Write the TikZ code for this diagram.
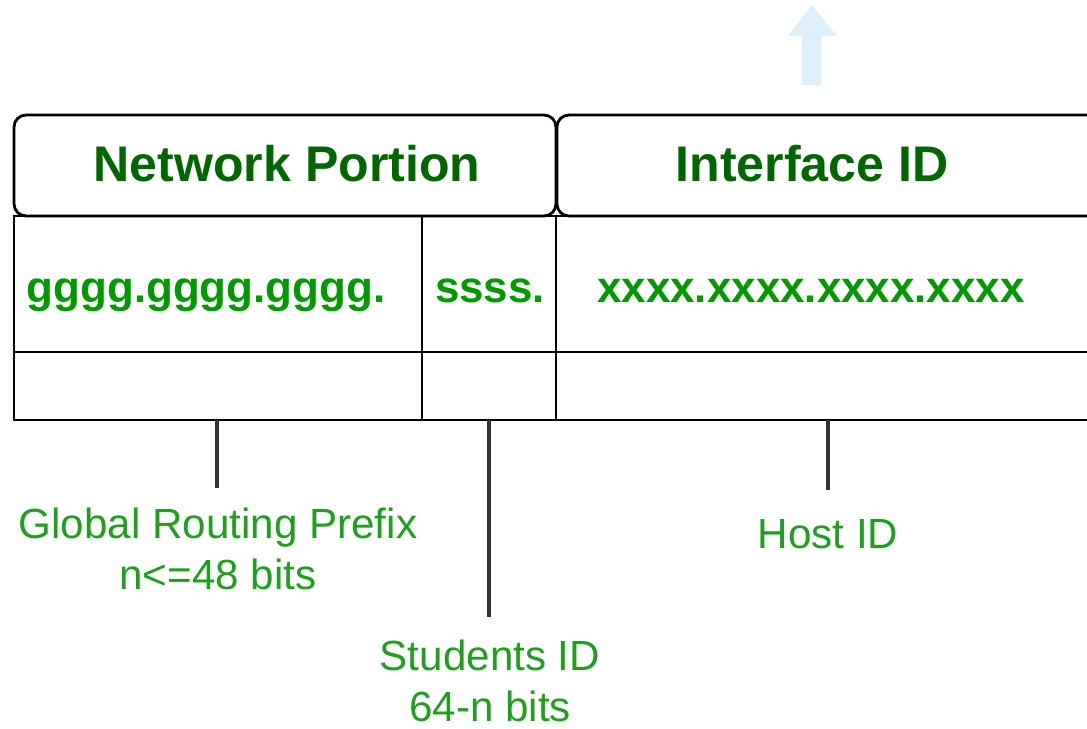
\documentclass[tikz,border=0pt]{standalone}
\usepackage{fontspec}
\setmainfont{Liberation Sans}
\usetikzlibrary{positioning}

\definecolor{hdrgreen}{HTML}{006600}
\definecolor{datagreen}{HTML}{009900}
\definecolor{lblgreen}{HTML}{1F9E1F}
\definecolor{arrowblue}{HTML}{DDF0FB}

\begin{document}
\begin{tikzpicture}[
    x=0.02cm, y=-0.02cm,
    line width=1.6pt,
    hdrbox/.style={
      rectangle,
      draw,
      rounded corners=0.24cm,
      minimum height=2.02cm,
      inner sep=0pt,
      outer sep=0pt
    },
    cell/.style={
      rectangle,
      draw,
      inner sep=0pt,
      outer sep=0pt
    },
    hdrtxt/.style={anchor=base, inner sep=0pt, text=hdrgreen,
      font=\fontsize{28.5}{34}\selectfont\bfseries},
    datatxt/.style={anchor=base, inner sep=0pt, text=datagreen,
      font=\fontsize{25}{30}\selectfont\bfseries},
    lbl/.style={anchor=base, inner sep=0pt, align=center, text=lblgreen,
      font=\fontsize{24}{28.5}\selectfont}
  ]
    \useasboundingbox (0,0) rectangle (1087,729);
    \clip (0,0) rectangle (1087,729);

    % light blue arrow at the top
    \fill[arrowblue] (802,85) -- (802,36) -- (788,36) -- (812,5)
      -- (837,36) -- (821,36) -- (821,85) -- cycle;

    % header boxes
    \node[hdrbox, minimum width=10.84cm] (netpart) at (285,165.5) {};
    \node[hdrbox, minimum width=11.48cm, right=0.02cm of netpart] (intpart) {};
    \node[hdrtxt] (nettxt) at (287,182) {Network Portion};
    \node[hdrtxt] (inttxt) at (812,182) {Interface ID};

    % address row
    \node[cell, minimum width=8.16cm, minimum height=2.72cm] (prefix) at (218,284) {};
    \node[cell, minimum width=2.68cm, minimum height=2.72cm, right=0pt of prefix] (subnet) {};
    \node[cell, minimum width=11.48cm, minimum height=2.72cm, right=0pt of subnet] (host) {};
    \node[datatxt] (prefixtxt) at (206,302) {gggg.gggg.gggg.};
    \node[datatxt] (subnettxt) at (490,302) {ssss.};
    \node[datatxt] (hosttxt) at (811,302) {xxxx.xxxx.xxxx.xxxx};

    % empty row
    \node[cell, minimum width=8.16cm, minimum height=1.36cm, below=0pt of prefix] (prefixlow) {};
    \node[cell, minimum width=2.68cm, minimum height=1.36cm, below=0pt of subnet] (subnetlow) {};
    \node[cell, minimum width=11.48cm, minimum height=1.36cm, below=0pt of host] (hostlow) {};

    % labels (base = last line)
    \node[lbl] (grp) at (218,589) {Global Routing Prefix\\n<=48 bits};
    \node[lbl] (stud) at (490,721) {Students ID\\64-n bits};
    \node[lbl] (hostid) at (828,548) {Host ID};

    % leaders
    \coordinate (grpend) at (217,488);
    \coordinate (studend) at (489,617);
    \coordinate (hostend) at (828,490);
    \begin{scope}[draw=black!80, line width=1.8pt]
      \draw (prefixlow.south -| grpend) -- (grpend);
      \draw (subnetlow.south -| studend) -- (studend);
      \draw (hostlow.south -| hostend) -- (hostend);
    \end{scope}
\end{tikzpicture}
\end{document}
